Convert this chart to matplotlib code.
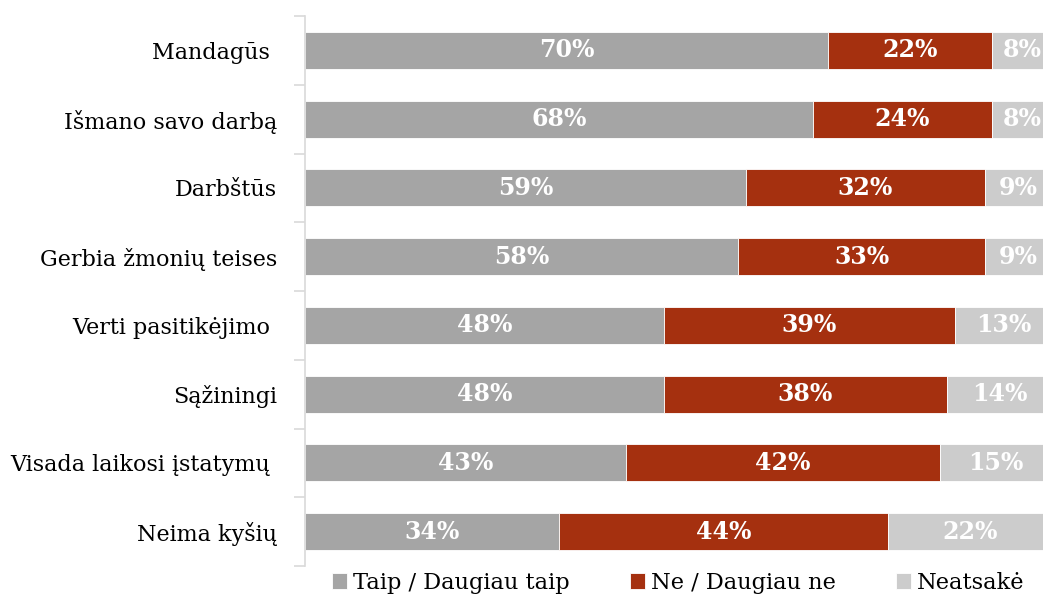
import matplotlib.pyplot as plt
import numpy as np

plt.rcParams['font.family'] = ['DejaVu Serif']

categories = ['Mandagūs ', 'Išmano savo darbą', 'Darbštūs', 'Gerbia žmonių teises',
              'Verti pasitikėjimo ', 'Sąžiningi', 'Visada laikosi įstatymų ', 'Neima kyšių']
taip = [70, 68, 59, 58, 48, 48, 43, 34]
ne = [22, 24, 32, 33, 39, 38, 42, 44]
neatsake = [8, 8, 9, 9, 13, 14, 15, 22]
series_names = ['Taip / Daugiau taip', 'Ne / Daugiau ne', 'Neatsakė']
colors = ['#A5A5A5', '#A5300F', '#CCCCCC']

fig = plt.figure(figsize=(10.43, 5.97), dpi=100)
ax = fig.add_axes([305/1043, 31/597, 747/1043, 550/597])

y = np.arange(len(categories))
left = np.zeros(len(categories))
handles = []
for vals, name, c in zip([taip, ne, neatsake], series_names, colors):
    vals = np.array(vals)
    b = ax.barh(y, vals, left=left, height=0.54, color=c, edgecolor='white',
                linewidth=0.6, label=name)
    handles.append(b)
    for yi, l, v in zip(y, left, vals):
        ax.text(l + v/2, yi, f'{v}%', ha='center', va='center', color='white',
                fontsize=17, fontweight='bold')
    left = left + vals

ax.set_xlim(0, 100)
ax.set_ylim(len(categories) - 0.5, -0.5)
ax.set_yticks(y)
ax.set_yticklabels(categories, fontsize=16)
ax.set_yticks(np.arange(-0.5, len(categories)), minor=True)
ax.tick_params(axis='y', which='major', length=0, pad=20)
ax.tick_params(axis='y', which='minor', length=8, color='#D9D9D9', width=1.2)
ax.set_xticks([])
for s in ['top', 'right', 'bottom']:
    ax.spines[s].set_visible(False)
ax.spines['left'].set_color('#D9D9D9')
ax.spines['left'].set_linewidth(1.2)

fig.legend(handles=handles, labels=series_names, loc='center', ncol=3,
           bbox_to_anchor=(678/1043, 14/597), frameon=False, fontsize=16.2,
           handlelength=0.67, handleheight=0.67, handletextpad=0.27,
           columnspacing=2.67, borderaxespad=0)

fig.savefig('out.png', dpi=100)
